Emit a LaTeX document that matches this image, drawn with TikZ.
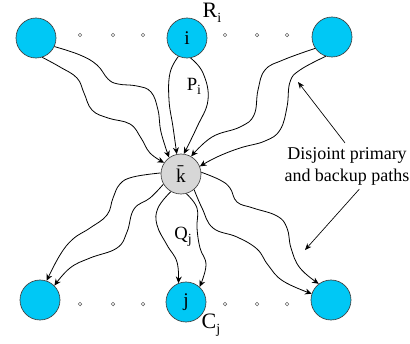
\documentclass[tikz,border=0pt]{standalone}
\usepackage{fontspec}
\setmainfont{Liberation Serif}
\usetikzlibrary{arrows.meta}
\definecolor{nodecyan}{RGB}{0,200,245}
\definecolor{kgray}{RGB}{215,215,215}
\newcommand{\lowidx}[1]{\raisebox{-0.45ex}{\fontsize{10.5}{10.5}\selectfont #1}}
\tikzset{
  endnode/.style={circle, draw=black!75, line width=0.5pt, fill=nodecyan, minimum size=30pt, inner sep=0pt, font=\fontsize{14.5}{14.5}\selectfont},
  midnode/.style={endnode, fill=kgray},
  gapdot/.style={circle, draw=black!60, line width=0.4pt, minimum size=2.8pt, inner sep=0pt},
  pathline/.style={line width=0.6pt, -{Stealth[length=5pt,width=4.5pt]}, smooth, tension=0.7},
  pointer/.style={line width=0.5pt, -{Stealth[length=5pt,width=4pt]}},
  lab/.style={font=\fontsize{14}{14}\selectfont, inner sep=0pt}
}
\begin{document}
\begin{tikzpicture}[x=0.75pt,y=-0.75pt]
\useasboundingbox (0,0) rectangle (410,343);
% nodes
\node[endnode] (TL) at (36,38) {};
\node[endnode] (i) at (187,38) {i};
\node[endnode] (TR) at (332,37) {};
\node[midnode] (k) at (181,174) {\={k}};
\node[endnode] (BL) at (40,300) {};
\node[endnode] (j) at (186,302) {j};
\node[endnode] (BR) at (331,300) {};
% gap dots
\foreach \x [count=\n] in {80,113,143,225,257,287} {
  \node[gapdot] (dt\n) at (\x,35) {};
  \node[gapdot] (db\n) at (\x,304) {};
}
% labels
\node[lab, font=\fontsize{16.5}{16.5}\selectfont] (Ri) at (212,13) {R\lowidx{i}};
\node[lab] (Pi) at (194,86) {P\lowidx{i}};
\node[lab] (Qj) at (183,237) {Q\lowidx{j}};
\node[lab, font=\fontsize{16.5}{16.5}\selectfont] (Cj) at (211,325) {C\lowidx{j}};
\node[align=center, font=\fontsize{13.5}{16.5}\selectfont, inner sep=3pt] (lbl) at (347,166) {Disjoint primary\\and backup paths};
% paths into k
\draw[pathline] plot coordinates {(TL.-25) (80,55) (97,65) (108,79) (118,84) (137,86) (151,92) (158,110) (161,132) (k.126)};
\draw[pathline] plot coordinates {(TL.-72) (60,67) (77,78) (84,93) (92,110) (108,118) (130,124) (141,138) (150,153) (k.146)};
\draw[pathline] plot coordinates {(i.-115) (170,73) (169,100) (173,127) (k.102)};
\draw[pathline] plot coordinates {(i.-80) (203,73) (208,100) (197,127) (k.82)};
\draw[pathline] plot coordinates {(TR.-146) (283,60) (265,70) (258,90) (254,115) (240,127) (212,137) (k.60)};
\draw[pathline] plot coordinates {(TR.-108) (300,70) (290,82) (287,107) (280,130) (265,141) (240,148) (217,157) (k.22)};
% paths out of k
\draw[pathline] plot coordinates {(k.177) (133,177) (120,184) (113,198) (107,215) (90,228) (73,239) (60,255) (BL.71)};
\draw[pathline] plot coordinates {(k.-150) (150,198) (134,209) (127,232) (117,248) (90,258) (70,268) (BL.45)};
\draw[pathline] plot coordinates {(k.-120) (158,208) (157,225) (167,245) (177,262) (j.112)};
\draw[pathline] plot coordinates {(k.-75) (197,208) (197,228) (200,248) (206,265) (j.48)};
\draw[pathline] plot coordinates {(k.5) (220,180) (230,188) (237,202) (253,208) (277,216) (287,228) (291,248) (300,268) (BR.127)};
\draw[pathline] plot coordinates {(k.-50) (202,208) (213,228) (237,237) (257,249) (268,265) (283,281) (BR.162)};
% pointers
\coordinate (p1) at (298,82);
\coordinate (p2) at (305,250);
\draw[pointer] (lbl.95) -- (p1);
\draw[pointer] (lbl.-62) -- (p2);
\end{tikzpicture}
\end{document}
